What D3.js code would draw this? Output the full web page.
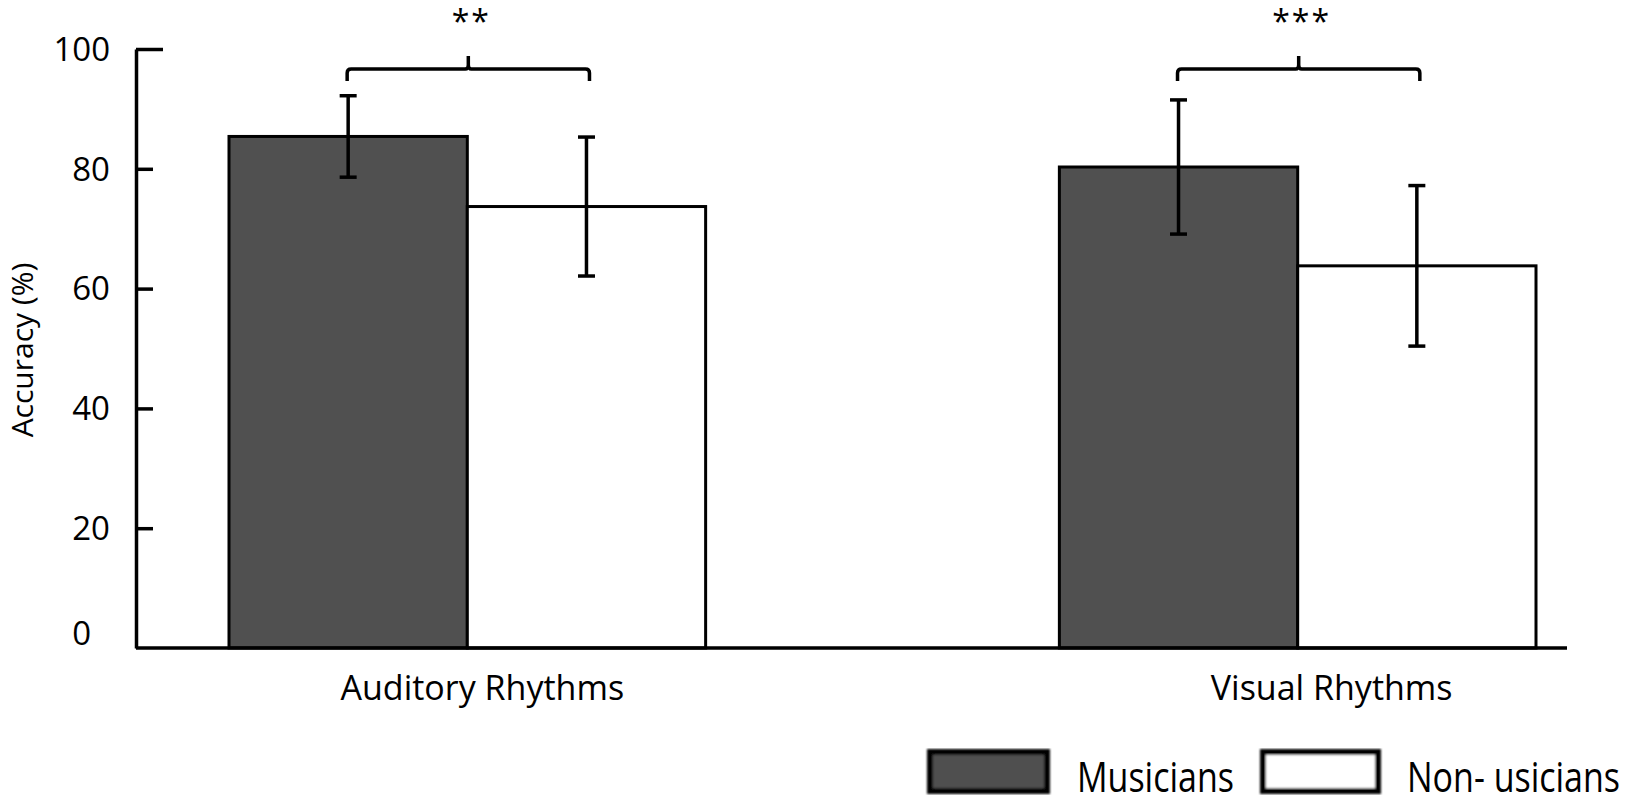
<!DOCTYPE html>
<html>
<head>
<meta charset="utf-8">
<script src="https://cdn.jsdelivr.net/npm/d3@7/dist/d3.min.js"></script>
<style>
  html, body { margin: 0; padding: 0; background: #fff; }
  svg { display: block; }
  text { font-family: "Open Sans", "DejaVu Sans", sans-serif; fill: #000; }
</style>
</head>
<body>
<svg id="chart" width="1625" height="803"></svg>
<script>
// ---- data ----
const categories = ["Auditory Rhythms", "Visual Rhythms"];
const series = ["Musicians", "Non- usicians"];
const musicians = [85.4, 80.3];
const nonMusicians = [73.7, 63.8];
const musiciansErr = [6.8, 11.2];
const nonMusiciansErr = [11.6, 13.4];
const significance = ["**", "***"];
const yTicks = [0, 20, 40, 60, 80, 100];
const seriesColors = ["#505050", "#ffffff"];

// ---- layout ----
const W = 1625, H = 803;
const axisX = 136, axisRight = 1567;
const svg = d3.select("#chart");

const y = d3.scaleLinear().domain([0, 100]).range([648, 49]);
const x0 = d3.scaleBand().domain(categories).range([229, 1536]).paddingInner(0.426).paddingOuter(0);
const x1 = d3.scaleBand().domain(series).range([0, x0.bandwidth()]);

const rows = categories.map((c, i) => ({
  cat: c,
  sig: significance[i],
  vals: [
    { s: series[0], v: musicians[i], e: musiciansErr[i] },
    { s: series[1], v: nonMusicians[i], e: nonMusiciansErr[i] }
  ]
}));

// bars
const groups = svg.append("g").selectAll("g").data(rows).join("g")
  .attr("transform", d => `translate(${x0(d.cat)},0)`);

groups.selectAll("rect").data(d => d.vals).join("rect")
  .attr("x", d => x1(d.s))
  .attr("y", d => y(d.v))
  .attr("width", x1.bandwidth())
  .attr("height", d => y(0) - y(d.v))
  .attr("fill", (d, i) => seriesColors[i])
  .attr("stroke", "#000")
  .attr("stroke-width", 3);

// error bars
const capW = 17;
const eb = groups.selectAll("g.err").data(d => d.vals).join("g").attr("class", "err");
eb.append("line")
  .attr("x1", d => x1(d.s) + x1.bandwidth() / 2)
  .attr("x2", d => x1(d.s) + x1.bandwidth() / 2)
  .attr("y1", d => y(d.v + d.e))
  .attr("y2", d => y(d.v - d.e));
eb.append("line")
  .attr("x1", d => x1(d.s) + x1.bandwidth() / 2 - capW / 2)
  .attr("x2", d => x1(d.s) + x1.bandwidth() / 2 + capW / 2)
  .attr("y1", d => y(d.v + d.e))
  .attr("y2", d => y(d.v + d.e));
eb.append("line")
  .attr("x1", d => x1(d.s) + x1.bandwidth() / 2 - capW / 2)
  .attr("x2", d => x1(d.s) + x1.bandwidth() / 2 + capW / 2)
  .attr("y1", d => y(d.v - d.e))
  .attr("y2", d => y(d.v - d.e));
eb.selectAll("line").attr("stroke", "#000").attr("stroke-width", 3.5);

// significance brackets
const bY = 69, bEnd = 81, bTop = 56;
groups.append("path")
  .attr("d", d => {
    const xl = x1(series[0]) + x1.bandwidth() / 2 - 1;
    const xr = x1(series[1]) + x1.bandwidth() / 2 + 3;
    const xm = (xl + xr) / 2;
    return `M${xl},${bEnd} L${xl},${bY + 4} Q${xl},${bY} ${xl + 4},${bY} L${xm - 3},${bY} Q${xm},${bY} ${xm},${bY - 4} L${xm},${bTop} ` +
           `M${xm},${bY - 4} Q${xm},${bY} ${xm + 3},${bY} L${xr - 4},${bY} Q${xr},${bY} ${xr},${bY + 4} L${xr},${bEnd}`;
  })
  .attr("fill", "none")
  .attr("stroke", "#000")
  .attr("stroke-width", 3.5);

groups.append("text")
  .attr("x", d => x0.bandwidth() / 2 + 4)
  .attr("y", 33)
  .attr("text-anchor", "middle")
  .attr("font-size", 32)
  .attr("letter-spacing", 2)
  .text(d => d.sig);

// x axis line (no ticks)
svg.append("line")
  .attr("x1", axisX).attr("x2", axisRight)
  .attr("y1", y(0)).attr("y2", y(0))
  .attr("stroke", "#000").attr("stroke-width", 3.5);

// category labels
const labelShift = [15, 34];
svg.append("g").selectAll("text").data(categories).join("text")
  .attr("x", (d, i) => x0(d) + x0.bandwidth() / 2 + labelShift[i])
  .attr("y", 700)
  .attr("text-anchor", "middle")
  .attr("font-size", 34)
  .text(d => d);

// y axis
const yAxis = d3.axisLeft(y).tickValues(yTicks).tickSizeInner(-17).tickSizeOuter(0).tickPadding(26);
const yg = svg.append("g").attr("transform", `translate(${axisX},0)`).call(yAxis);
yg.select(".domain").attr("stroke", "#000").attr("stroke-width", 3.5);
yg.selectAll(".tick line").attr("stroke", "#000").attr("stroke-width", 3.5)
  .attr("x2", d => d === 100 ? 27 : 17);
yg.selectAll(".tick text")
  .attr("font-family", "'Open Sans', sans-serif")
  .attr("font-size", 33)
  .attr("fill", "#000")
  .attr("x", d => d === 0 ? -45 : -26)
  .attr("dy", d => d === 0 ? "-0.1em" : "0.34em");
yg.selectAll(".tick").filter(d => d === 0).select("line").remove();

// y axis title
svg.append("text")
  .attr("transform", "translate(33,350) rotate(-90)")
  .attr("text-anchor", "middle")
  .attr("font-size", 30)
  .text("Accuracy (%)");

// legend
const defs = svg.append("defs");
defs.append("filter").attr("id", "soft").append("feGaussianBlur").attr("stdDeviation", 1.3);
const legendItems = [
  { s: series[0], sx: 927, sw: 123, tx: 1077 },
  { s: series[1], sx: 1260, sw: 121, tx: 1407 }
];
const lg = svg.append("g");
lg.selectAll("rect").data(legendItems).join("rect")
  .attr("x", d => d.sx + 3).attr("y", 752)
  .attr("width", d => d.sw - 6).attr("height", 39)
  .attr("fill", (d, i) => seriesColors[i])
  .attr("stroke", "#000")
  .attr("stroke-width", 6)
  .attr("filter", "url(#soft)");
lg.selectAll("text").data(legendItems).join("text")
  .attr("transform", d => `translate(${d.tx},792) scale(1,1.25)`)
  .attr("font-size", 34)
  .text(d => d.s);
</script>
</body>
</html>
